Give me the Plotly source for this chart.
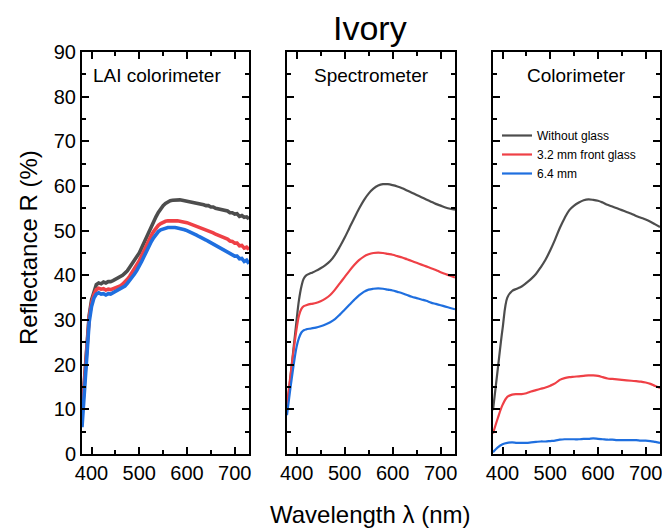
import plotly.graph_objects as go

# Wavelength grids (nm)
wl_lai = list(range(380, 735, 5))
wl_smooth = [380, 390, 400, 405, 410, 415, 420, 430, 440, 450, 460, 470, 480, 490, 500,
             510, 520, 530, 540, 550, 560, 570, 580, 590, 600, 610, 620, 630, 640, 650,
             660, 670, 680, 690, 700, 710, 720, 730]
wl_col = list(range(380, 740, 10))

# LAI colorimeter reflectance (%)
lai_none = [9, 17, 25, 31, 34.5, 36.6, 37.9, 38.3, 38.1, 38.5, 38.3, 38.6, 38.6, 38.8, 39.1,
            39.2, 39.6, 40.0, 40.5, 41.0, 41.8, 42.5, 43.3, 44.2, 45.0, 46.2, 47.4, 48.6, 49.8,
            51.0, 52.0, 53.1, 54.1, 55.0, 55.6, 56.1, 56.5, 56.7, 56.8, 56.9, 56.9, 56.9, 56.8,
            56.7, 56.6, 56.6, 56.4, 56.3, 56.1, 56.1, 55.9, 55.8, 55.6, 55.6, 55.3, 55.3, 55.0,
            54.9, 54.7, 54.7, 54.4, 54.4, 54.0, 54.0, 53.7, 53.8, 53.2, 53.4, 53.0, 53.1, 52.6]
lai_32 = [8.5, 16, 24, 30.5, 33.8, 35.7, 36.8, 37.1, 36.9, 37.0, 36.7, 36.9, 36.8, 37.0, 37.2,
          37.2, 37.6, 38.0, 38.5, 39.1, 39.8, 40.6, 41.5, 42.4, 43.3, 44.4, 45.6, 46.7, 47.8,
          48.9, 49.8, 50.6, 51.2, 51.6, 51.9, 52.1, 52.2, 52.2, 52.3, 52.2, 52.2, 52.1, 52.1,
          51.9, 51.8, 51.6, 51.5, 51.3, 51.1, 50.9, 50.7, 50.5, 50.2, 50.0, 49.8, 49.5, 49.2,
          49.0, 48.7, 48.5, 48.2, 48.1, 47.7, 47.6, 47.2, 47.2, 46.6, 46.7, 46.1, 46.3, 45.8]
lai_64 = [6, 14, 22.5, 29.5, 33.0, 34.9, 35.8, 36.1, 35.8, 35.9, 35.6, 35.9, 35.8, 36.1, 36.3,
          36.5, 36.9, 37.2, 37.6, 38.2, 38.8, 39.5, 40.3, 41.1, 42.0, 43.1, 44.2, 45.4, 46.5,
          47.5, 48.4, 49.2, 49.8, 50.2, 50.4, 50.6, 50.7, 50.7, 50.8, 50.7, 50.6, 50.5, 50.4,
          50.2, 50.0, 49.8, 49.6, 49.3, 49.0, 48.7, 48.5, 48.2, 47.9, 47.6, 47.3, 47.0, 46.7,
          46.4, 46.1, 45.9, 45.5, 45.3, 44.9, 44.8, 44.3, 44.3, 43.7, 43.8, 43.1, 43.4, 42.6]

# Spectrometer reflectance (%)
spec_none = [10, 20, 30, 34.5, 37.5, 39.3, 40.0, 40.5, 41.0, 41.6, 42.3, 43.2, 44.6, 46.4, 48.4,
             50.6, 52.8, 54.9, 56.8, 58.3, 59.4, 60.1, 60.4, 60.4, 60.2, 59.9, 59.5, 59.0, 58.5,
             58.0, 57.5, 57.0, 56.5, 56.0, 55.6, 55.2, 54.9, 54.7]
spec_32 = [11, 20, 28, 31.0, 32.5, 33.1, 33.3, 33.6, 33.8, 34.2, 34.8, 35.6, 36.8, 38.2, 39.6,
           41.0, 42.3, 43.4, 44.2, 44.7, 45.0, 45.1, 45.0, 44.8, 44.6, 44.3, 44.0, 43.6, 43.2,
           42.8, 42.4, 42.0, 41.6, 41.2, 40.7, 40.3, 39.9, 39.5]
spec_64 = [8.7, 17, 24, 26.0, 27.2, 27.7, 27.9, 28.1, 28.3, 28.6, 29.0, 29.5, 30.2, 31.2, 32.3,
           33.4, 34.5, 35.5, 36.3, 36.8, 37.0, 37.1, 37.0, 36.8, 36.6, 36.3, 36.0, 35.6, 35.2,
           34.9, 34.6, 34.3, 33.9, 33.6, 33.3, 33.0, 32.7, 32.4]

# Colorimeter reflectance (%)
col_none = [9.8, 19, 28, 35, 36.5, 37.0, 37.5, 38.3, 39.2, 40.3, 41.8, 43.5, 45.6, 48.0, 50.6,
            52.8, 54.6, 55.6, 56.3, 56.8, 57.0, 56.9, 56.7, 56.3, 55.8, 55.4, 55.0, 54.6, 54.2,
            53.8, 53.3, 52.9, 52.5, 52.0, 51.4, 50.8]
col_32 = [4.6, 8, 11, 12.8, 13.3, 13.4, 13.4, 13.6, 14.0, 14.3, 14.6, 14.9, 15.3, 15.8, 16.6,
          17.0, 17.2, 17.3, 17.4, 17.5, 17.6, 17.6, 17.5, 17.2, 16.9, 16.8, 16.7, 16.6, 16.5,
          16.4, 16.3, 16.2, 16.0, 15.7, 15.2, 14.8]
col_64 = [0.4, 1.5, 2.2, 2.5, 2.6, 2.5, 2.5, 2.5, 2.6, 2.7, 2.8, 2.8, 2.9, 3.0, 3.2, 3.3, 3.3,
          3.3, 3.3, 3.4, 3.4, 3.5, 3.4, 3.3, 3.2, 3.2, 3.1, 3.1, 3.1, 3.1, 3.1, 3.0, 3.0, 2.9,
          2.7, 2.5]

series_names = ["Without glass", "3.2 mm front glass", "6.4 mm"]
panel_titles = ["LAI colorimeter", "Spectrometer", "Colorimeter"]
colors = ["#4d4d4d", "#ef4046", "#1f6fdf"]

W, H = 662, 528
FONT = "Liberation Sans, Arial, sans-serif"

fig = go.Figure()

panels = [
    (wl_lai, [lai_none, lai_32, lai_64], "linear", 3.6),
    (wl_smooth, [spec_none, spec_32, spec_64], "spline", 2.2),
    (wl_col, [col_none, col_32, col_64], "spline", 2.2),
]
for p, (wl, ys, shape, lw) in enumerate(panels):
    ax = "" if p == 0 else str(p + 1)
    for k, y in enumerate(ys):
        fig.add_trace(go.Scatter(
            x=wl, y=y, mode="lines", name=series_names[k],
            line=dict(color=colors[k], width=lw, shape=shape),
            xaxis="x" + ax, yaxis="y" + ax,
            showlegend=(p == 2),
        ))

# Panel placement (pixels)
x_px = [(82, 249), (287, 455), (493, 660)]
y_dom = [1 - 454 / H, 1 - 52 / H]

axis_common = dict(
    showline=True, linewidth=2, linecolor="black", mirror="ticks",
    ticks="inside", ticklen=7, tickwidth=2, tickcolor="black",
    showgrid=False, zeroline=False, automargin=False,
    ticklabeloverflow="allow",
    tickfont=dict(family=FONT, size=20, color="black"),
)
layout = dict(
    width=W, height=H, margin=dict(l=0, r=0, t=0, b=0),
    plot_bgcolor="white", paper_bgcolor="white",
    font=dict(family=FONT, color="black"),
)
for p in range(3):
    sfx = "" if p == 0 else str(p + 1)
    layout["xaxis" + sfx] = dict(
        axis_common, domain=[x_px[p][0] / W, x_px[p][1] / W],
        range=[380, 730], tickvals=[400, 500, 600, 700],
        minor=dict(tickvals=[450, 550, 650], ticklen=4, tickwidth=2,
                   tickcolor="black", ticks="inside"),
        anchor="y" + sfx,
    )
    layout["yaxis" + sfx] = dict(
        axis_common, domain=y_dom, range=[0, 90], dtick=10,
        minor=dict(dtick=5, ticklen=4, tickwidth=2, tickcolor="black",
                   ticks="inside"),
        showticklabels=(p == 0), anchor="x" + sfx,
    )

layout["legend"] = dict(
    x=497 / W, y=1 - 121 / H, xanchor="left", yanchor="top",
    bgcolor="rgba(0,0,0,0)", itemwidth=30, tracegroupgap=0,
    font=dict(family=FONT, size=12, color="black"),
)

annotations = [
    dict(text="Ivory", x=370 / W, y=1 - 28 / H, xref="paper", yref="paper",
         showarrow=False, font=dict(family=FONT, size=34, color="black"),
         xanchor="center", yanchor="middle"),
    dict(text="Reflectance R (%)", x=28 / W, y=1 - 248 / H, xref="paper", yref="paper",
         showarrow=False, textangle=-90, font=dict(family=FONT, size=24, color="black"),
         xanchor="center", yanchor="middle"),
    dict(text="Wavelength λ (nm)", x=370 / W, y=1 - 514 / H, xref="paper", yref="paper",
         showarrow=False, font=dict(family=FONT, size=24, color="black"),
         xanchor="center", yanchor="middle"),
    dict(text=panel_titles[0], x=91 / W, y=1 - 75 / H, xref="paper", yref="paper",
         showarrow=False, font=dict(family=FONT, size=19, color="black"),
         xanchor="left", yanchor="middle"),
    dict(text=panel_titles[1], x=(287 + 455) / 2 / W, y=1 - 75 / H, xref="paper", yref="paper",
         showarrow=False, font=dict(family=FONT, size=19, color="black"),
         xanchor="center", yanchor="middle"),
    dict(text=panel_titles[2], x=(493 + 660) / 2 / W, y=1 - 75 / H, xref="paper", yref="paper",
         showarrow=False, font=dict(family=FONT, size=19, color="black"),
         xanchor="center", yanchor="middle"),
]
layout["annotations"] = annotations

fig.update_layout(**layout)
fig.write_html("out.html")
